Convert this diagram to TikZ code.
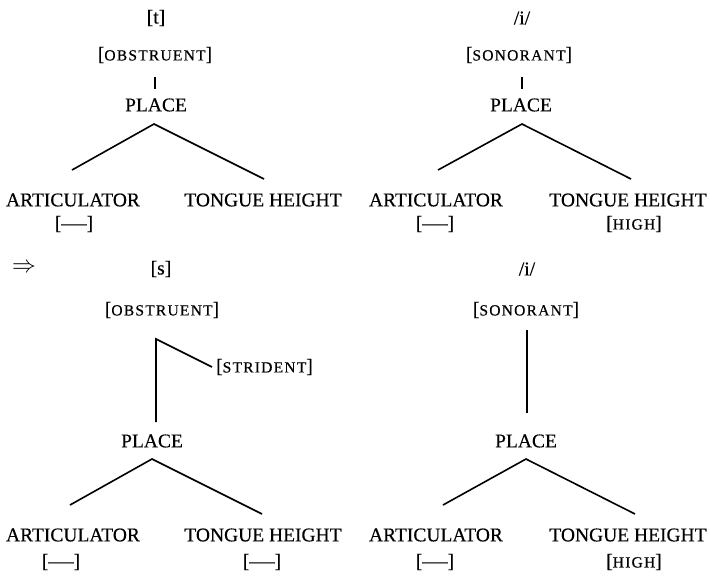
\documentclass[tikz,border=0pt]{standalone}
\usepackage{fontspec}
\setmainfont{Liberation Serif}[FakeBold=0.3]
\newfontfamily\scfont[LetterSpace=8,FakeBold=0.4]{Liberation Serif}
\newcommand\fsc[1]{{\scfont\fontsize{15.5}{16}\selectfont #1}}
\newcommand\wdash{[\scalebox{1.3}[1]{—}]}
\begin{document}
\begin{tikzpicture}[x=1pt,y=-1pt,
  lbl/.style={inner sep=0pt, font=\fontsize{19.5}{20}\selectfont},
  edge/.style={line width=1.6pt}]
\useasboundingbox (0,0) rectangle (710,579);
% ---------- tree 1: [t]
\node[lbl] (t1) at (156,18) {[t]};
\node[lbl] (o1) at (155,55) {[\fsc{OBSTRUENT}]};
\node[lbl] (p1) at (156,105) {PLACE};
\node[lbl] (a1) at (73,200) {ARTICULATOR};
\node[lbl] (h1) at (263,200) {TONGUE HEIGHT};
\node[lbl] (d1) at (74,224) {\wdash};
\coordinate (o1b) at (155,77);
\coordinate (p1t) at (155,89);
\coordinate (p1b) at (154,124);
\coordinate (a1t) at (72,170);
\coordinate (h1t) at (264,179);
\draw[edge] (o1b) -- (p1t);
\draw[edge] (a1t) -- (p1b) -- (h1t);
% ---------- tree 2: /i/
\node[lbl] (t2) at (522,18) {/i/};
\node[lbl] (o2) at (519,55) {[\fsc{SONORANT}]};
\node[lbl] (p2) at (521,105) {PLACE};
\node[lbl] (a2) at (436,200) {ARTICULATOR};
\node[lbl] (h2) at (628,200) {TONGUE HEIGHT};
\node[lbl] (d2) at (435,224) {\wdash};
\node[lbl] (g2) at (634,224) {[\fsc{HIGH}]};
\coordinate (o2b) at (522,77);
\coordinate (p2t) at (522,89);
\coordinate (p2b) at (522,124);
\coordinate (a2t) at (438,170);
\coordinate (h2t) at (631,179);
\draw[edge] (o2b) -- (p2t);
\draw[edge] (a2t) -- (p2b) -- (h2t);
% ---------- arrow
\node[lbl] (arr) at (24,268) {\scalebox{1.15}{$\Rightarrow$}};
% ---------- tree 3: [s]
\node[lbl] (t3) at (161,269) {[s]};
\node[lbl] (o3) at (162,310) {[\fsc{OBSTRUENT}]};
\node[lbl, anchor=west] (s3) at (216,367) {[\fsc{STRIDENT}]};
\node[lbl] (p3) at (152,441) {PLACE};
\node[lbl] (a3) at (73,535) {ARTICULATOR};
\node[lbl] (h3) at (263,535) {TONGUE HEIGHT};
\node[lbl] (d3) at (61,562) {\wdash};
\node[lbl] (e3) at (262,562) {\wdash};
\coordinate (o3b) at (156,339);
\coordinate (p3t) at (156,422);
\coordinate (p3b) at (152,459);
\coordinate (a3t) at (70,505);
\coordinate (h3t) at (262,514);
\draw[edge] (p3t) -- (o3b) -- ([xshift=-4pt]s3.west);
\draw[edge] (a3t) -- (p3b) -- (h3t);
% ---------- tree 4: /i/
\node[lbl] (t4) at (527,269) {/i/};
\node[lbl] (o4) at (526,310) {[\fsc{SONORANT}]};
\node[lbl] (p4) at (526,441) {PLACE};
\node[lbl] (a4) at (436,535) {ARTICULATOR};
\node[lbl] (h4) at (628,535) {TONGUE HEIGHT};
\node[lbl] (d4) at (435,562) {\wdash};
\node[lbl] (g4) at (634,562) {[\fsc{HIGH}]};
\coordinate (o4b) at (527,330);
\coordinate (p4t) at (527,413);
\coordinate (p4b) at (526,459);
\coordinate (a4t) at (443,505);
\coordinate (h4t) at (635,514);
\draw[edge] (o4b) -- (p4t);
\draw[edge] (a4t) -- (p4b) -- (h4t);
\end{tikzpicture}
\end{document}
